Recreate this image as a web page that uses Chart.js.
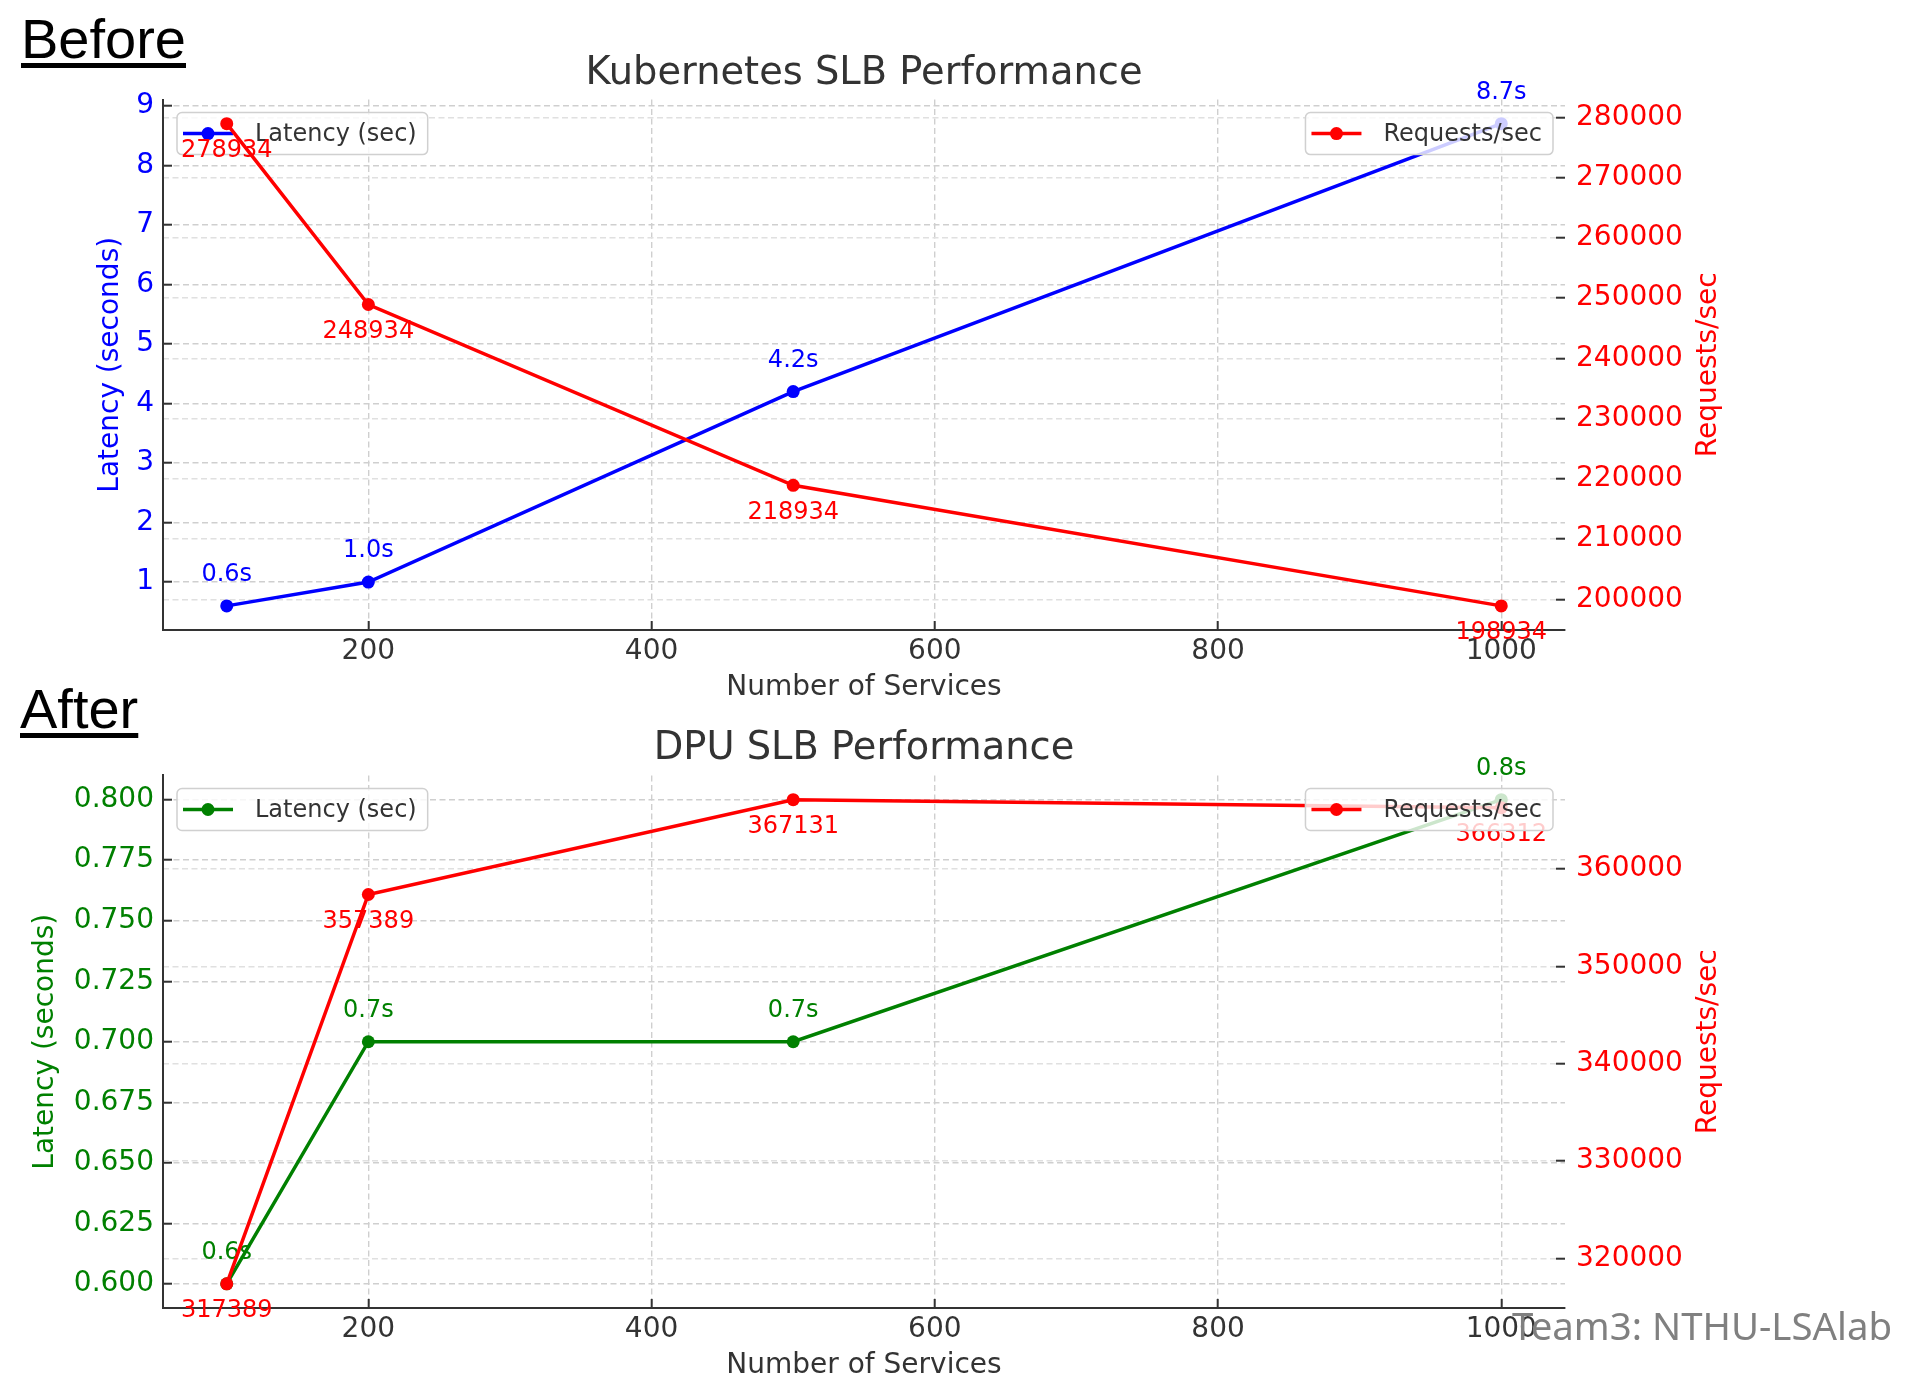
<!DOCTYPE html>
<html>
<head>
<meta charset="utf-8">
<script src="https://cdn.jsdelivr.net/npm/chart.js@4.4.1/dist/chart.umd.min.js"></script>
<style>
html, body { margin: 0; padding: 0; background: #fff; }
body { width: 1908px; height: 1388px; position: relative; overflow: hidden; }
.box { position: absolute; left: 0; width: 1908px; }
.head { position: absolute; font-family: "Liberation Sans", Arial, sans-serif; font-size: 56px; line-height: 56px; color: #000;
        text-decoration: underline; text-decoration-thickness: 5px; text-underline-offset: 5px; }
#sign { position: absolute; left: 1512px; top: 1306px; font-family: "Noto Sans", sans-serif; font-size: 38.4px; line-height: 38px; color: #808080; }
</style>
</head>
<body>
<div class="box" style="top:0;height:706px"><canvas id="before"></canvas></div>
<div class="box" style="top:700px;height:684px"><canvas id="after"></canvas></div>
<div class="head" style="left:21px;top:11px">Before</div>
<div class="head" style="left:20px;top:681px">After</div>
<div id="sign">Team3: NTHU-LSAlab</div>
<script>
// valeurs
const services = [100, 200, 500, 1000];
const xTicks = [200, 400, 600, 800, 1000];

const k8sLatency = [0.6, 1.0, 4.2, 8.7];
const k8sRequests = [278934, 248934, 218934, 198934];
const k8sLatencyTicks = [1, 2, 3, 4, 5, 6, 7, 8, 9];
const k8sRequestTicks = [200000, 210000, 220000, 230000, 240000, 250000, 260000, 270000, 280000];

const dpuLatency = [0.6, 0.7, 0.7, 0.8];
const dpuRequests = [317389, 357389, 367131, 366312];
const dpuLatencyTicks = [0.6, 0.625, 0.65, 0.675, 0.7, 0.725, 0.75, 0.775, 0.8];
const dpuRequestTicks = [320000, 330000, 340000, 350000, 360000];

const RED = '#ff0000';
const FONT = '"DejaVu Sans"';
Chart.defaults.font.family = FONT;

// marges façon matplotlib (5%)
function range(vals) {
    const lo = Math.min(...vals), hi = Math.max(...vals);
    const pad = (hi - lo) * 0.05;
    return {min: lo - pad, max: hi + pad};
}

function legendBox(chart, ds, side) {
    const ctx = chart.ctx, a = chart.chartArea;
    ctx.font = '24px ' + FONT;
    const w = 78 + ctx.measureText(ds.label).width + 11, h = 42;
    const x0 = side == 'left' ? a.left + 14 : a.right - 12 - w;
    const y0 = a.top + 13;
    ctx.beginPath();
    ctx.roundRect(x0, y0, w, h, 5);
    ctx.fillStyle = 'rgba(255,255,255,0.8)';
    ctx.fill();
    ctx.lineWidth = 1.5;
    ctx.strokeStyle = '#d0d0d0';
    ctx.stroke();
    const cy = y0 + h / 2;
    ctx.beginPath();
    ctx.moveTo(x0 + 6, cy); ctx.lineTo(x0 + 56, cy);
    ctx.strokeStyle = ds.borderColor; ctx.lineWidth = 3.5;
    ctx.stroke();
    ctx.beginPath();
    ctx.arc(x0 + 31, cy, 6.5, 0, Math.PI * 2);
    ctx.fillStyle = ds.borderColor;
    ctx.fill();
    ctx.fillStyle = '#333';
    ctx.textAlign = 'left'; ctx.textBaseline = 'middle';
    ctx.fillText(ds.label, x0 + 78, cy + 1);
}

// étiquettes des points + légendes, dans l'ordre de dessin des datasets
const decor = {
    id: 'decor',
    afterDatasetDraw(chart, args) {
        const ds = chart.data.datasets[args.index];
        const lat = ds.yAxisID == 'y';
        const ctx = chart.ctx;
        ctx.save();
        ctx.font = '24px ' + FONT;
        ctx.fillStyle = ds.borderColor;
        ctx.textAlign = 'center';
        ctx.textBaseline = 'middle';
        args.meta.data.forEach((pt, i) => {
            const v = ds.data[i].y;
            const txt = lat ? v.toFixed(1) + 's' : String(v);
            ctx.fillText(txt, pt.x, pt.y + (lat ? -31 : 27));
        });
        legendBox(chart, ds, lat ? 'left' : 'right');
        ctx.restore();
    },
    afterDraw(chart) {
        const s = chart.scales.y2, ctx = chart.ctx;
        ctx.save();
        ctx.translate(s.left + 144, (s.top + s.bottom) / 2);
        ctx.rotate(-Math.PI / 2);
        ctx.font = '28px ' + FONT;
        ctx.fillStyle = RED;
        ctx.textAlign = 'center';
        ctx.textBaseline = 'middle';
        ctx.fillText('Requests/sec', 0, 0);
        ctx.restore();
    }
};

function makeChart(id, o) {
    const xr = range(services), yr = range(o.latency), y2r = range(o.requests);
    const tickFont = {size: 28, family: FONT};
    return new Chart(document.getElementById(id), {
        type: 'line',
        data: {
            datasets: [
                {
                    label: 'Requests/sec', yAxisID: 'y2', order: 1,
                    data: services.map((x, i) => ({x: x, y: o.requests[i]})),
                    borderColor: RED, backgroundColor: RED, pointBackgroundColor: RED,
                    borderWidth: 3.5, pointRadius: 6.5, pointBorderWidth: 0, tension: 0, clip: false
                },
                {
                    label: 'Latency (sec)', yAxisID: 'y', order: 2,
                    data: services.map((x, i) => ({x: x, y: o.latency[i]})),
                    borderColor: o.color, backgroundColor: o.color, pointBackgroundColor: o.color,
                    borderWidth: 3.5, pointRadius: 6.5, pointBorderWidth: 0, tension: 0, clip: false
                }
            ]
        },
        options: {
            responsive: true,
            maintainAspectRatio: false,
            animation: false,
            layout: {padding: 0},
            plugins: {
                legend: {display: false},
                tooltip: {enabled: false},
                title: {
                    display: true, text: o.title, fullSize: false, color: '#333',
                    font: {size: 38.4, weight: 'normal', family: FONT},
                    padding: {top: o.titleTop, bottom: o.titleBottom}
                }
            },
            scales: {
                x: {
                    type: 'linear', position: 'bottom', min: xr.min, max: xr.max,
                    afterBuildTicks: s => { s.ticks = xTicks.map(v => ({value: v})); },
                    afterFit: s => { s.height = 76; },
                    ticks: {font: tickFont, color: '#333', padding: 14, maxRotation: 0, autoSkip: false,
                            callback: v => String(v)},
                    grid: {color: '#cfcfcf', lineWidth: 1.4, tickLength: -9, tickColor: '#333', tickWidth: 2},
                    border: {color: '#333', width: 2, dash: [6, 3.5]},
                    title: {display: true, text: 'Number of Services', color: '#333', font: tickFont, padding: {top: 0, bottom: 1.2}}
                },
                y: {
                    type: 'linear', position: 'left', min: yr.min, max: yr.max,
                    afterBuildTicks: s => { s.ticks = o.latencyTicks.map(v => ({value: v})); },
                    afterFit: s => { s.width = 163; },
                    ticks: {font: tickFont, color: o.color, padding: 18, autoSkip: false,
                            callback: v => v.toFixed(o.decimals)},
                    grid: {color: '#cfcfcf', lineWidth: 1.4, tickLength: -9, tickColor: '#333', tickWidth: 2},
                    border: {color: '#333', width: 2, dash: [6, 3.5]},
                    title: {display: true, text: 'Latency (seconds)', color: o.color, font: tickFont, padding: {top: o.yTitlePad, bottom: 0}}
                },
                y2: {
                    type: 'linear', position: 'right', min: y2r.min, max: y2r.max,
                    afterBuildTicks: s => { s.ticks = o.requestTicks.map(v => ({value: v})); },
                    afterFit: s => { s.width = 343; },
                    ticks: {font: tickFont, color: RED, padding: 20, autoSkip: false, callback: v => String(v)},
                    grid: {color: '#e0e0e0', lineWidth: 1.4, tickLength: -9, tickColor: '#333', tickWidth: 2},
                    border: {display: false, dash: [6, 3.5]}
                }
            }
        },
        plugins: [decor]
    });
}

makeChart('before', {
    title: 'Kubernetes SLB Performance', color: '#0000ff', decimals: 0,
    latency: k8sLatency, requests: k8sRequests,
    latencyTicks: k8sLatencyTicks, requestTicks: k8sRequestTicks,
    titleTop: 51, titleBottom: 2.5, yTitlePad: 94
});
makeChart('after', {
    title: 'DPU SLB Performance', color: '#008000', decimals: 3,
    latency: dpuLatency, requests: dpuRequests,
    latencyTicks: dpuLatencyTicks, requestTicks: dpuRequestTicks,
    titleTop: 26, titleBottom: 3.4, yTitlePad: 29
});
</script>
</body>
</html>
